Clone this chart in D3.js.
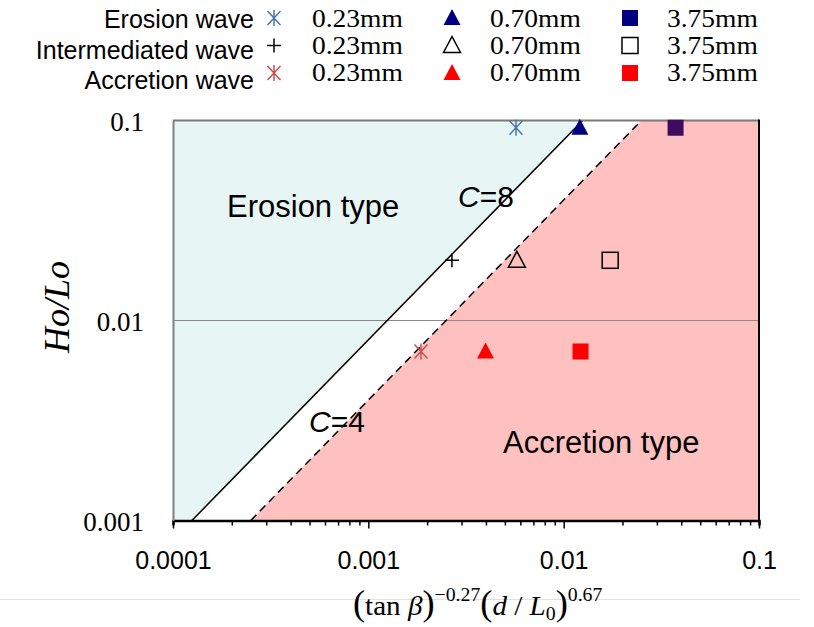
<!DOCTYPE html>
<html>
<head>
<meta charset="utf-8">
<script src="https://cdn.jsdelivr.net/npm/d3@7"></script>
<style>
  body { margin: 0; background: #fff; }
  svg { display: block; }
  .sans { font-family: 'Liberation Sans', Arial, sans-serif; }
  .serif { font-family: 'Liberation Serif', 'Times New Roman', serif; }
</style>
</head>
<body>
<svg id="chart"></svg>
<script>
// Legend / categories
var waveTypes = ['Erosion wave', 'Intermediated wave', 'Accretion wave'];
var grainSizes = ['0.23mm', '0.70mm', '3.75mm'];

// Measured points, one value per grain size
var erosionX = [0.0057, 0.0121, 0.0374];
var erosionY = [0.092, 0.092, 0.092];
var intermediateX = [0.00268, 0.00576, 0.0173];
var intermediateY = [0.02, 0.02, 0.02];
var accretionX = [0.00186, 0.00398, 0.0122];
var accretionY = [0.007, 0.007, 0.007];

// Boundary lines Ho/Lo = C * x
var boundaryC = [8, 4];

// Axis ticks
var xTickValues = [0.0001, 0.001, 0.01, 0.1];
var xTickLabels = ['0.0001', '0.001', '0.01', '0.1'];
var yTickValues = [0.001, 0.01, 0.1];
var yTickLabels = ['0.001', '0.01', '0.1'];

// Canvas size
var canvasWidth = 814;
var canvasHeight = 627;

var margin = {
  top: 120.5,
  right: 55,
  bottom: 106.5,
  left: 173
};

var svg = d3.select('#chart')
  .attr('width', canvasWidth)
  .attr('height', canvasHeight);

// Scales
var xScale = d3.scaleLog()
  .domain([1e-4, 1e-1])
  .range([margin.left, canvasWidth - margin.right]);

var yScale = d3.scaleLog()
  .domain([1e-3, 1e-1])
  .range([canvasHeight - margin.bottom, margin.top]);

var xMin = xScale.domain()[0], xMax = xScale.domain()[1];
var yMin = yScale.domain()[0], yMax = yScale.domain()[1];

// Marker styles per wave type / grain size
var waveStyles = [
  { color: '#000080', star: '#4a76aa', squareColor: '#3e0b60', open: false },
  { color: '#000000', star: '#000000', squareColor: '#000000', open: true },
  { color: '#ff0000', star: '#c9504c', squareColor: '#ff0000', open: false }
];

var pointLine = d3.line()
  .x(function(d) { return xScale(d[0]); })
  .y(function(d) { return yScale(d[1]); });

// Region fills
var c8 = boundaryC[0], c4 = boundaryC[1];
svg.append('path')
  .attr('d', pointLine([[xMin, yMin], [yMin / c8, yMin], [yMax / c8, yMax], [xMin, yMax]]) + 'Z')
  .attr('fill', '#e8f5f5');

svg.append('path')
  .attr('d', pointLine([[yMin / c4, yMin], [xMax, yMin], [xMax, yMax], [yMax / c4, yMax]]) + 'Z')
  .attr('fill', '#ffc0c0');

// Grid line at 0.01
svg.append('line')
  .attr('x1', xScale(xMin)).attr('x2', xScale(xMax))
  .attr('y1', yScale(0.01)).attr('y2', yScale(0.01))
  .attr('stroke', '#8a8a8a')
  .attr('stroke-width', 1.2);

// Boundary lines
boundaryC.forEach(function(c, i) {
  svg.append('path')
    .attr('d', pointLine([[yMin / c, yMin], [yMax / c, yMax]]))
    .attr('fill', 'none')
    .attr('stroke', '#000')
    .attr('stroke-width', 1.5)
    .attr('stroke-dasharray', i === 1 ? '8,5' : null);
});

// Frame: top and right
svg.append('line')
  .attr('x1', xScale(xMin)).attr('x2', xScale(xMax))
  .attr('y1', yScale(yMax)).attr('y2', yScale(yMax))
  .attr('stroke', '#7a7a7a').attr('stroke-width', 2);
svg.append('line')
  .attr('x1', xScale(xMax)).attr('x2', xScale(xMax))
  .attr('y1', yScale(yMax) - 1).attr('y2', yScale(yMin))
  .attr('stroke', '#000').attr('stroke-width', 2);

// Axes
var minorTicks = [];
[1e-4, 1e-3, 1e-2].forEach(function(decade) {
  for (var k = 1; k <= 9; k++) minorTicks.push(decade * k);
});
minorTicks.push(1e-1);

var xAxis = d3.axisBottom(xScale)
  .tickValues(minorTicks)
  .tickFormat('')
  .tickSizeOuter(0)
  .tickSize(5);

var xAxisG = svg.append('g')
  .attr('class', 'x-axis')
  .attr('transform', 'translate(0,' + yScale(yMin) + ')')
  .call(xAxis);

xAxisG.selectAll('.tick line')
  .attr('stroke', '#000')
  .attr('stroke-width', 1.5)
  .attr('y2', function(d) {
    return xTickValues.some(function(v) { return Math.abs(v - d) / v < 1e-6; }) ? 8 : 5;
  });
xAxisG.select('.domain').attr('stroke', '#000').attr('stroke-width', 2.5);

var xLabelAxis = d3.axisBottom(xScale)
  .tickValues(xTickValues)
  .tickFormat(function(d, i) { return xTickLabels[i]; })
  .tickSize(0)
  .tickPadding(31);

var xLabelG = svg.append('g')
  .attr('transform', 'translate(0,' + yScale(yMin) + ')')
  .call(xLabelAxis);
xLabelG.select('.domain').remove();
xLabelG.selectAll('text')
  .attr('class', 'sans')
  .attr('font-family', null)
  .style('font-size', '25px')
  .attr('fill', '#000');

var yAxis = d3.axisLeft(yScale)
  .tickValues(yTickValues)
  .tickFormat(function(d, i) { return yTickLabels[i]; })
  .tickSize(0)
  .tickPadding(29);

var yAxisG = svg.append('g')
  .attr('class', 'y-axis')
  .attr('transform', 'translate(' + xScale(xMin) + ',0)')
  .call(yAxis);
yAxisG.select('.domain').attr('stroke', '#808080').attr('stroke-width', 2);
yAxisG.selectAll('text')
  .attr('class', 'serif')
  .attr('font-family', null)
  .attr('dy', '0.37em')
  .style('font-size', '27px')
  .attr('fill', '#000');

// Marker drawing
function drawMarker(g, kind, cx, cy, style, fillColor) {
  var m = g.append('g').attr('transform', 'translate(' + cx + ',' + cy + ')');
  if (kind === 0) {
    if (style.open) {
      m.append('path').attr('d', 'M-7,0H7M0,-7V7')
        .attr('stroke', style.star).attr('stroke-width', 1.5);
    } else {
      m.append('path').attr('d', 'M-6.5,-7L6.5,7M6.5,-7L-6.5,7M0,-8V8')
        .attr('stroke', style.star).attr('stroke-width', 1.5);
    }
  } else if (kind === 1) {
    m.append('path').attr('d', 'M0,-9L8.5,7L-8.5,7Z')
      .attr('fill', style.open ? 'none' : fillColor)
      .attr('stroke', style.open ? '#000' : 'none')
      .attr('stroke-width', 1.5);
  } else {
    m.append('rect').attr('x', -8).attr('y', -8).attr('width', 16).attr('height', 16)
      .attr('fill', style.open ? 'none' : fillColor)
      .attr('stroke', style.open ? '#000' : 'none')
      .attr('stroke-width', 1.5);
  }
}

// Data points
var seriesX = [erosionX, intermediateX, accretionX];
var seriesY = [erosionY, intermediateY, accretionY];
var pointsG = svg.append('g').classed('points', true);
seriesX.forEach(function(xs, w) {
  xs.forEach(function(xv, s) {
    var style = waveStyles[w];
    drawMarker(pointsG, s, xScale(xv), yScale(seriesY[w][s]), style,
      s === 2 ? style.squareColor : style.color);
  });
});

// Region labels
svg.append('text').attr('class', 'sans')
  .attr('x', 227).attr('y', 217)
  .style('font-size', '31px')
  .text('Erosion type');

svg.append('text').attr('class', 'sans')
  .attr('x', 503).attr('y', 453)
  .style('font-size', '31px')
  .text('Accretion type');

function cLabel(x, y, c) {
  var t = svg.append('text').attr('class', 'sans')
    .attr('x', x).attr('y', y)
    .style('font-size', '30px');
  t.append('tspan').style('font-style', 'italic').text('C');
  t.append('tspan').text('=' + c);
}
cLabel(458, 207, boundaryC[0]);
cLabel(309, 432, boundaryC[1]);

// Y label
svg.append('text').attr('class', 'serif')
  .attr('transform', 'translate(69,307) rotate(-90)')
  .attr('text-anchor', 'middle')
  .style('font-size', '36px')
  .style('font-style', 'italic')
  .text('Ho/Lo');

// Separator line under the axis
svg.append('line')
  .attr('x1', 0).attr('x2', 800)
  .attr('y1', 599.5).attr('y2', 599.5)
  .attr('stroke', '#e2e2e2').attr('stroke-width', 1);

// X label: (tan β)^-0.27 (d / L0)^0.67
var xt = svg.append('text').attr('class', 'serif')
  .attr('transform', 'translate(353,615) scale(1.04,1)')
  .style('font-size', '28px');
xt.append('tspan').style('font-size', '35px').text('(');
xt.append('tspan').text('tan ');
xt.append('tspan').style('font-style', 'italic').text('\u03b2');
xt.append('tspan').style('font-size', '35px').text(')');
xt.append('tspan').style('font-size', '19px').attr('dy', -14).text('\u22120.27');
xt.append('tspan').style('font-size', '35px').attr('dy', 14).text('(');
xt.append('tspan').style('font-style', 'italic').text('d');
xt.append('tspan').text(' / ');
xt.append('tspan').style('font-style', 'italic').text('L');
xt.append('tspan').style('font-size', '19px').attr('dy', 5).text('0');
xt.append('tspan').style('font-size', '35px').attr('dy', -5).text(')');
xt.append('tspan').style('font-size', '19px').attr('dy', -14).text('0.67');

// Legend
var legendG = svg.append('g').classed('legend', true);
var legendMarkerX = [274, 452, 630];
var legendTextX = [312, 490, 667];
waveTypes.forEach(function(name, w) {
  var markerY = 18 + w * 27.5;
  legendG.append('text').attr('class', 'sans')
    .attr('x', 254).attr('y', 28 + w * 30.5)
    .attr('text-anchor', 'end')
    .style('font-size', '25px')
    .text(name);
  grainSizes.forEach(function(size, s) {
    var style = waveStyles[w];
    drawMarker(legendG, s, legendMarkerX[s], markerY, style, style.color);
    legendG.append('text').attr('class', 'serif')
      .attr('transform', 'translate(' + legendTextX[s] + ',' + (27 + w * 27) + ') scale(1.1,1)')
      .style('font-size', '25px')
      .text(size);
  });
});
</script>
</body>
</html>
